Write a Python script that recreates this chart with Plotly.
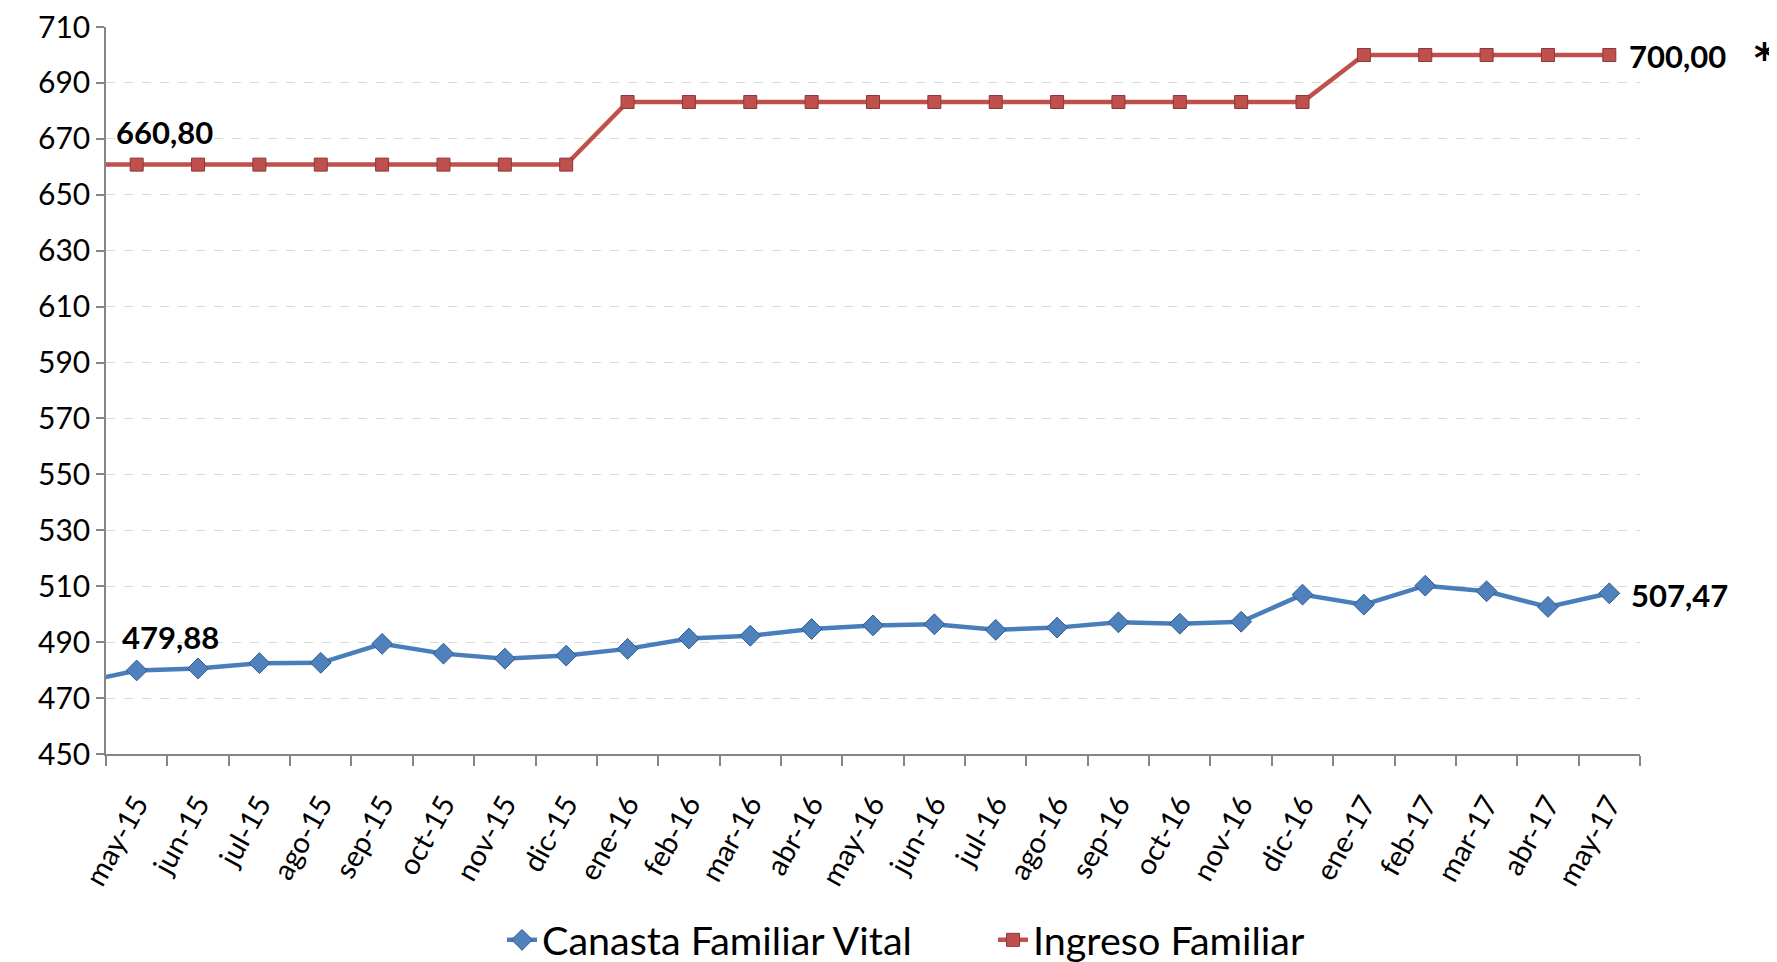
import plotly.graph_objects as go

# Categories (first one lies just outside the visible range; its line segment enters from the axis)
months = ["abr-15", "may-15", "jun-15", "jul-15", "ago-15", "sep-15", "oct-15", "nov-15", "dic-15",
          "ene-16", "feb-16", "mar-16", "abr-16", "may-16", "jun-16", "jul-16", "ago-16",
          "sep-16", "oct-16", "nov-16", "dic-16", "ene-17", "feb-17", "mar-17", "abr-17", "may-17"]

canasta = [475.2, 479.88, 480.6, 482.5, 482.6, 489.4, 485.9, 484.1, 485.2,
           487.6, 491.3, 492.3, 494.7, 496.0, 496.4, 494.4, 495.2,
           497.1, 496.6, 497.3, 507.0, 503.4, 510.2, 508.2, 502.6, 507.47]

ingreso = [660.80, 660.80, 660.80, 660.80, 660.80, 660.80, 660.80, 660.80, 660.80,
           683.20, 683.20, 683.20, 683.20, 683.20, 683.20, 683.20, 683.20,
           683.20, 683.20, 683.20, 683.20, 700.00, 700.00, 700.00, 700.00, 700.00]

y_ticks = list(range(450, 711, 20))

BLUE = "#4A7EBB"
RED = "#C0504D"
FONT = "Lato"

# page body has an 8px default margin, so figure coordinates = page coordinates - 8
L, R, T, B = 98, 145, 19, 216
W, H = 1777, 962
PW, PH = W - L - R, H - T - B

fig = go.Figure()
fig.add_trace(go.Scatter(
    x=months, y=canasta, name="Canasta Familiar Vital", mode="lines+markers",
    line=dict(color=BLUE, width=4.5),
    marker=dict(symbol="diamond", size=16, color="#4F81BD", line=dict(color="#2C5A8F", width=1)),
    cliponaxis=True,
))
fig.add_trace(go.Scatter(
    x=months, y=ingreso, name="Ingreso Familiar", mode="lines+markers",
    line=dict(color=RED, width=4.5),
    marker=dict(symbol="square", size=13, color="#C0504D", line=dict(color="#8C3836", width=1)),
    cliponaxis=True,
))

def fmt(v):
    return f"{v:.2f}".replace(".", ",")

ann_font = dict(family=FONT, size=31, color="black", weight="bold")
annotations = [
    dict(x=months[1], y=ingreso[1], text=fmt(ingreso[1]), showarrow=False, xanchor="center",
         yanchor="middle", xshift=28, yshift=33, font=ann_font),
    dict(x=months[1], y=canasta[1], text=fmt(canasta[1]), showarrow=False, xanchor="center",
         yanchor="middle", xshift=34, yshift=33, font=ann_font),
    dict(x=months[-1], y=ingreso[-1], text=fmt(ingreso[-1]), showarrow=False, xanchor="left",
         yanchor="middle", xshift=18, yshift=-1, font=ann_font),
    dict(x=months[-1], y=canasta[-1], text=fmt(canasta[-1]), showarrow=False, xanchor="left",
         yanchor="middle", xshift=20, yshift=-2, font=ann_font),
    dict(xref="paper", yref="paper", x=(1756 - L) / PW, y=(H - B - 50) / PH,
         text="*", showarrow=False, xanchor="center", yanchor="middle",
         font=dict(family="DejaVu Sans", size=40, color="black", weight="bold")),
]

fig.update_layout(
    width=W, height=H,
    paper_bgcolor="white", plot_bgcolor="white",
    margin=dict(l=L, r=R, t=T, b=B, autoexpand=False),
    font=dict(family=FONT, size=30, color="black"),
    showlegend=True,
    legend=dict(orientation="h", xref="container", yref="container", x=0.278, y=0.031,
                xanchor="left", yanchor="middle", font=dict(family=FONT, size=39.5),
                itemwidth=30, entrywidth=446, entrywidthmode="pixels", bgcolor="rgba(0,0,0,0)"),
    annotations=annotations,
)
fig.update_xaxes(
    type="category", categoryorder="array", categoryarray=months,
    range=[0.5, len(months) - 0.5], automargin=False,
    tickson="boundaries", ticks="outside", ticklen=10, tickcolor="#868686", tickwidth=1.5,
    showline=True, linecolor="#868686", linewidth=1.5, ticklabelstandoff=20,
    showgrid=False, tickangle=-61, tickfont=dict(family=FONT, size=29, color="black"),
)
fig.update_yaxes(
    range=[450, 710.02], tickvals=y_ticks, ticktext=[str(v) for v in y_ticks], automargin=False,
    ticks="outside", ticklen=8, tickcolor="#868686", tickwidth=1.5, ticklabeloverflow="allow",
    showline=True, linecolor="#868686", linewidth=1.5,
    showgrid=True, gridcolor="#D9D9D9", griddash="dash", gridwidth=1.2,
    zeroline=False, tickfont=dict(family=FONT, size=30, color="black"),
)

fig.write_html("out.html")
